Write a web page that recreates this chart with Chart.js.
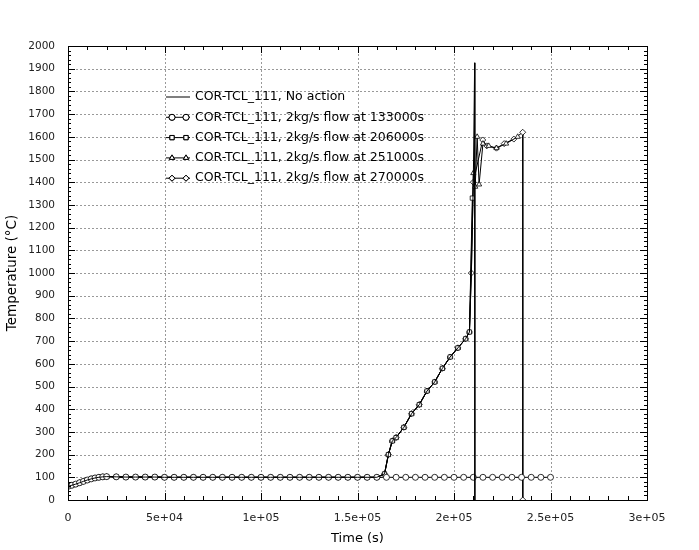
<!DOCTYPE html>
<html><head><meta charset="utf-8">
<script src="https://cdn.jsdelivr.net/npm/chart.js@4"></script>
<style>html,body{margin:0;background:#fff}#w{width:699px;height:550px}</style>
</head><body><div id="w"><canvas id="c"></canvas></div>
<script>
const xTicks=[0,50000,100000,150000,200000,250000,300000];
const xTickLabels=["0","5e+04","1e+05","1.5e+05","2e+05","2.5e+05","3e+05"];
const legendLabels=["COR-TCL_111, No action","COR-TCL_111, 2kg/s flow at 133000s","COR-TCL_111, 2kg/s flow at 206000s","COR-TCL_111, 2kg/s flow at 251000s","COR-TCL_111, 2kg/s flow at 270000s"];
const markerStyles=[false,'circle','rect','triangle','rectRot'];
const earlyT=[0,2000,4000,6000,8000,10000,12000,14000,16000,18000,20000,25000,30000,35000,40000,45000,50000,55000,60000,65000,70000,75000,80000,85000,90000,95000,100000,105000,110000,115000,120000,125000,130000,135000,140000,145000,150000,155000,160000];
const earlyV=[60,65,70,76,82,88,93,97,100,102,103,102,101,101,101,101,100,100,100,100,100,100,100,100,100,100,100,100,100,100,100,100,100,100,100,100,100,100,100];
const rampT=[164000,166000,168000,170000,174000,178000,182000,186000,190000,194000,198000,202000,206000,208000];
const rampV=[115,200,260,275,320,380,420,480,520,580,630,670,710,740];
const noActT=[209000,210000,210700,210800];
const noActV=[1000,1400,1926,0];
const flow133T=[165000,170000,175000,180000,185000,190000,195000,200000,205000,210000,215000,220000,225000,230000,235000,240000,245000,250000];
const flow133V=[100,100,100,100,100,100,100,100,100,100,100,100,100,100,100,100,100,100];
const flow206T=[209500];
const flow206V=[1330];
const flow251T=[210000,211000,212000,213000,215000,218000,222000,227000,233000];
const flow251V=[1440,1380,1600,1390,1570,1560,1550,1570,1600];
const flow270T=[209000,210000,214900,217000,222000,226000,231000,235600,235650];
const flow270V=[1000,1400,1586,1560,1550,1570,1590,1620,0];

const pts=(ts,vs)=>ts.map((t,i)=>({x:t,y:vs[i]}));
const early=pts(earlyT,earlyV), ramp=pts(rampT,rampV);
const series=[
 early.concat(ramp,pts(noActT,noActV)),
 early.concat(pts(flow133T,flow133V)),
 early.concat(ramp,pts(flow206T,flow206V)),
 early.concat(ramp,pts(flow251T,flow251V)),
 early.concat(ramp,pts(flow270T,flow270V))
];
const datasets=series.map((d,i)=>({label:legendLabels[i],data:d,borderColor:'#000',borderWidth:1,
 backgroundColor:'#fff',pointStyle:markerStyles[i]||'circle',pointRadius:markerStyles[i]?3:0,
 pointBorderColor:'#000',pointBackgroundColor:'#fff',pointBorderWidth:0.8,tension:0}));

const font="'DejaVu Sans', sans-serif";
const deco={id:'deco',beforeDatasetsDraw(ch){
 const c=ch.ctx,a=ch.chartArea,xs=ch.scales.x,ys=ch.scales.y;
 c.save();c.strokeStyle='#999';c.lineWidth=1;c.setLineDash([2,2]);c.beginPath();
 xTicks.forEach(v=>{const x=Math.round(xs.getPixelForValue(v))+0.5;c.moveTo(x,a.top);c.lineTo(x,a.bottom);});
 for(let v=100;v<2000;v+=100){const y=Math.round(ys.getPixelForValue(v))+0.5;c.moveTo(a.left,y);c.lineTo(a.right,y);}
 c.stroke();c.restore();},
 afterDraw(ch){
 const c=ch.ctx,a=ch.chartArea,xs=ch.scales.x,ys=ch.scales.y;
 c.save();c.strokeStyle='#000';c.lineWidth=1;c.beginPath();
 for(let v=0;v<=300000;v+=10000){const x=Math.round(xs.getPixelForValue(v))+0.5;const L=v%50000?4:7;
  c.moveTo(x,a.bottom);c.lineTo(x,a.bottom-L);c.moveTo(x,a.top);c.lineTo(x,a.top+L);}
 for(let v=0;v<=2000;v+=20){const y=Math.round(ys.getPixelForValue(v))+0.5;const L=v%100?3:7;
  c.moveTo(a.left,y);c.lineTo(a.left+L,y);c.moveTo(a.right,y);c.lineTo(a.right-L,y);}
 c.stroke();
 c.strokeRect(a.left+0.5,a.top+0.5,a.width,a.height);
 c.font="12.5px "+font;c.textBaseline='middle';c.fillStyle='#000';
 legendLabels.forEach((t,i)=>{const y=97+i*20.3;c.beginPath();c.moveTo(166,y);c.lineTo(190,y);c.stroke();
  if(markerStyles[i]){[172,186].forEach(x=>{Chart.helpers.drawPoint(c,{pointStyle:markerStyles[i],radius:3,borderWidth:0.8},x,y);c.fillStyle='#fff';c.fill();c.stroke();});}
  c.fillStyle='#000';c.fillText(t,195,y);});
 c.restore();}};

new Chart(document.getElementById('c'),{type:'line',data:{datasets},
 options:{responsive:true,maintainAspectRatio:false,animation:false,
  layout:{padding:{top:46,right:52,left:0,bottom:0}},
  plugins:{legend:{display:false},tooltip:{enabled:false}},
  scales:{
   x:{type:'linear',min:0,max:300000,afterFit:s=>{s.height=50},
    afterBuildTicks:s=>{s.ticks=xTicks.map(v=>({value:v}))},
    ticks:{color:'#222',font:{family:font,size:11},maxRotation:0,padding:4,callback:(v)=>xTickLabels[xTicks.indexOf(v)]},
    grid:{display:false},border:{display:false},
    title:{display:true,text:'Time (s)',color:'#000',font:{family:font,size:13},padding:{top:4}}},
   y:{min:0,max:2000,afterFit:s=>{s.width=68},
    ticks:{stepSize:100,color:'#222',font:{family:font,size:10.5},padding:5,callback:v=>String(v)},
    grid:{display:false},border:{display:false},
    title:{display:true,text:'Temperature (°C)',color:'#000',font:{family:font,size:13.5}}}
  }},
 plugins:[deco]
});
</script></body></html>
